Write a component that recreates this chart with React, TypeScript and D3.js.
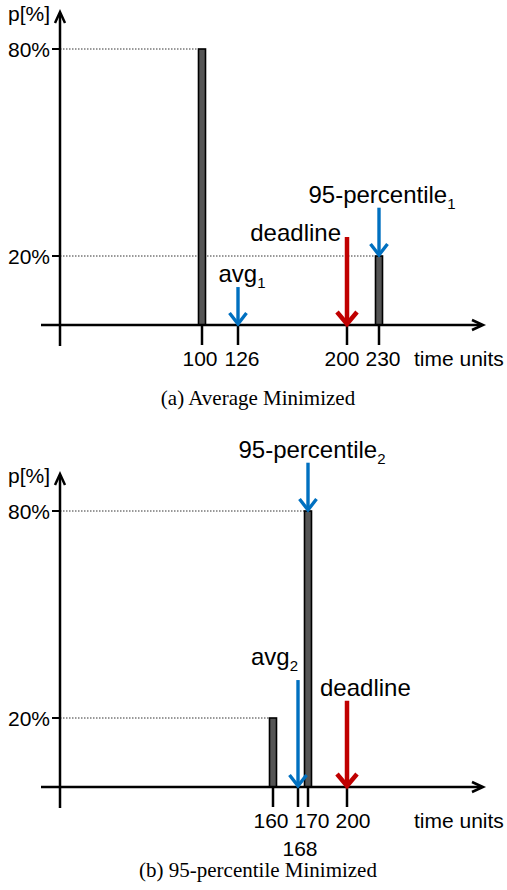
import React from "react";
import * as d3 from "d3";

// panel (a) – average minimized
const ticksA = [100, 126, 200, 230];
const barsA = [
  { t: 100, p: 80 },
  { t: 230, p: 20 }
];
const arrowsA = [
  { t: 126, from: 11, to: 0, label: "avg", sub: "1", kind: "blue" },
  { t: 200, from: 25.5, to: 0, label: "deadline", sub: "", kind: "red" },
  { t: 230, from: 34, to: 20, label: "95-percentile", sub: "1", kind: "blue" }
];

// panel (b) – 95-percentile minimized
const ticksB = [160, 168, 170, 200];
const barsB = [
  { t: 160, p: 20 },
  { t: 170, p: 80 }
];
const arrowsB = [
  { t: 168, from: 31, to: 0, label: "avg", sub: "2", kind: "blue" },
  { t: 200, from: 25, to: 0, label: "deadline", sub: "", kind: "red" },
  { t: 170, from: 94, to: 80, label: "95-percentile", sub: "2", kind: "blue" }
];

const yTicks = [20, 80];

// the time axis is schematic, so each panel maps its ticks to fixed slots
const slotsA = [202, 238, 347, 379];
const slotsB = [273, 298, 308, 347];
// tick labels are spread a little so they do not collide
const nudgeA = [-2, 4, -5, 4];
const nudgeB = [-2, 2, 4, 6];

// label placement per panel/arrow: [anchor, dx, dy from arrow top]
const labelLayoutA = [
  ["middle", 4, -5],
  ["end", -6, 4],
  ["middle", 3, -5]
];
const labelLayoutB = [
  ["end", 0, -15],
  ["start", -27, -5],
  ["middle", 4, -5]
];

const SANS = "'Liberation Sans', Arial, Helvetica, sans-serif";
const SERIF = "'Liberation Serif', 'Times New Roman', serif";
const colors = { blue: "#0070C0", red: "#C00000" };

const X0 = 60; // y-axis position
const AXIS_Y = 325;

type Props = {
  offset: number;
  ticks: number[];
  slots: number[];
  nudge: number[];
  bars: { t: number; p: number }[];
  arrows: { t: number; from: number; to: number; label: string; sub: string; kind: string }[];
  layout: (string | number)[][];
  caption: string;
  secondRow?: number[];
};

const Panel = ({ offset, ticks, slots, nudge, bars, arrows, layout, caption, secondRow = [] }: Props) => {
  const x = d3.scaleLinear().domain(ticks).range(slots);
  const y = d3.scaleLinear().domain([0, 80]).range([AXIS_Y, AXIS_Y - 276]);

  return (
    <g transform={`translate(0,${offset})`}>
      {/* dotted guides */}
      {bars.map((b, i) => (
        <line
          key={"g" + i}
          x1={X0}
          x2={x(b.t) - 3.5}
          y1={y(b.p)}
          y2={y(b.p)}
          stroke="#333"
          strokeWidth={1}
          strokeDasharray="1.5,1.5"
        />
      ))}

      {/* bars */}
      {bars.map((b, i) => (
        <rect
          key={"b" + i}
          x={x(b.t) - 3.5}
          y={y(b.p)}
          width={7}
          height={y(0) - y(b.p)}
          fill="#555"
          stroke="#000"
          strokeWidth={1.6}
        />
      ))}

      {/* y axis */}
      <line x1={X0} x2={X0} y1={AXIS_Y + 21} y2={y(0) - 312} stroke="#000" strokeWidth={2.5} />
      <path
        d={`M${X0 - 5},${y(0) - 302} L${X0},${y(0) - 313} L${X0 + 5},${y(0) - 302}`}
        fill="none"
        stroke="#000"
        strokeWidth={2.5}
      />
      <text x={50} y={y(0) - 304} textAnchor="end" fontFamily={SANS} fontSize={21}>
        p[%]
      </text>
      {yTicks.map(v => (
        <g key={"y" + v}>
          <line x1={X0 - 8} x2={X0} y1={y(v)} y2={y(v)} stroke="#000" strokeWidth={2} />
          <text x={50} y={y(v)} dy="0.36em" textAnchor="end" fontFamily={SANS} fontSize={21}>
            {v}%
          </text>
        </g>
      ))}

      {/* x axis */}
      <line x1={41} x2={482} y1={AXIS_Y} y2={AXIS_Y} stroke="#000" strokeWidth={2.5} />
      <path
        d={`M472,${AXIS_Y - 5} L483,${AXIS_Y} L472,${AXIS_Y + 5}`}
        fill="none"
        stroke="#000"
        strokeWidth={2.5}
      />
      {ticks.map((t, i) => (
        <g key={"t" + t}>
          <line x1={x(t)} x2={x(t)} y1={AXIS_Y} y2={AXIS_Y + 20} stroke="#000" strokeWidth={2.5} />
          <text
            x={x(t) + nudge[i]}
            y={AXIS_Y + 41 + (secondRow.includes(t) ? 28 : 0)}
            textAnchor="middle"
            fontFamily={SANS}
            fontSize={21}
          >
            {t}
          </text>
        </g>
      ))}
      <text x={414} y={AXIS_Y + 41} fontFamily={SANS} fontSize={21}>
        time units
      </text>

      {/* arrows */}
      {arrows.map((a, i) => {
        const c = colors[a.kind as "blue" | "red"];
        const w = a.kind === "red" ? 4.5 : 3.4;
        const hw = a.kind === "red" ? 10 : 8.5;
        const hh = a.kind === "red" ? 13 : 12;
        const ax = x(a.t);
        const top = y(a.from);
        const tip = y(a.to);
        const [anchor, dx, dy] = layout[i];
        return (
          <g key={"a" + i}>
            <line x1={ax} x2={ax} y1={top} y2={tip - 1} stroke={c} strokeWidth={w} />
            <path
              d={`M${ax - hw},${tip - hh} L${ax},${tip - 1} L${ax + hw},${tip - hh}`}
              fill="none"
              stroke={c}
              strokeWidth={w}
            />
            <text
              x={ax + (dx as number)}
              y={top + (dy as number)}
              textAnchor={anchor as string}
              fontFamily={SANS}
              fontSize={24}
              fill="#000"
            >
              {a.label}
              {a.sub && (
                <tspan fontSize={15} dy={6}>
                  {a.sub}
                </tspan>
              )}
            </text>
          </g>
        );
      })}

      <text
        x={258}
        y={AXIS_Y + (secondRow.length ? 90 : 80)}
        textAnchor="middle"
        fontFamily={SERIF}
        fontSize={21}
      >
        {caption}
      </text>
    </g>
  );
};

export default function App() {
  return (
    <svg
      width={507}
      height={890}
      style={{ position: "absolute", left: 0, top: 0, background: "#fff" }}
    >
      <Panel
        offset={0}
        ticks={ticksA}
        slots={slotsA}
        nudge={nudgeA}
        bars={barsA}
        arrows={arrowsA}
        layout={labelLayoutA}
        caption="(a)  Average Minimized"
      />
      <Panel
        offset={462}
        ticks={ticksB}
        slots={slotsB}
        nudge={nudgeB}
        bars={barsB}
        arrows={arrowsB}
        layout={labelLayoutB}
        caption="(b) 95-percentile Minimized"
        secondRow={[168]}
      />
    </svg>
  );
}
